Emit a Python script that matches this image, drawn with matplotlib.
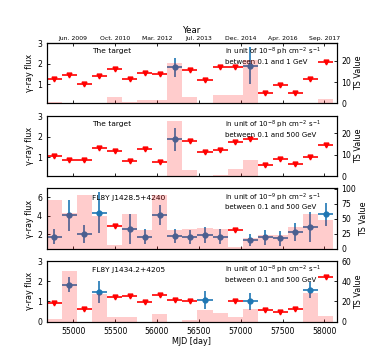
import numpy as np
import matplotlib
matplotlib.use('Agg')
import matplotlib.pyplot as plt

# centros de los bines de tiempo (MJD), bines de 180 dias
mjd = [54773, 54953, 55133, 55313, 55493, 55673, 55853, 56033, 56213, 56393,
       56573, 56753, 56933, 57113, 57293, 57473, 57653, 57833, 58013]
media_bin = 90

# panel 1: the target, 0.1-1 GeV
flujo1 = [1.27, 1.47, 1.03, 1.39, 1.76, 1.28, 1.57, 1.49, 1.82, 1.71,
          1.20, 1.83, 1.83, 1.91, 0.57, 0.95, 0.60, 1.24, 2.09]
err1 = [0, 0, 0, 0, 0, 0, 0, 0, 0.47, 0, 0, 0, 0, 0.88, 0, 0, 0, 0, 0]
ts1 = [0.8, 0, 0, 0, 2.8, 0.4, 1.5, 1.5, 18.9, 2.8,
       0, 3.7, 3.7, 20.2, 0, 0, 0, 0, 2.0]

# panel 2: the target, 0.1-500 GeV
flujo2 = [1.07, 0.87, 0.87, 1.42, 1.30, 0.83, 1.39, 0.75, 1.86, 1.78,
          1.26, 1.34, 1.74, 1.87, 0.62, 0.91, 0.65, 0.99, 1.57]
err2 = [0, 0, 0, 0, 0, 0, 0, 0, 0.55, 0, 0, 0, 0, 0, 0, 0, 0, 0, 0]
ts2 = [0, 0, 0, 0, 0, 0, 0.2, 0, 25.8, 2.9,
       0, 0.3, 3.2, 7.4, 0, 0, 0, 0, 0]

# panel 3: FL8Y J1428.5+4240
flujo3 = [1.75, 4.05, 2.03, 4.30, 2.90, 2.54, 1.75, 4.09, 1.80, 1.75,
          1.93, 1.75, 2.45, 1.39, 1.68, 1.60, 2.22, 2.76, 4.16]
err3 = [0.80, 1.65, 0.95, 2.20, 0, 1.60, 0.80, 1.10, 0.75, 0.75,
        0.85, 0.80, 0, 0.60, 0.80, 0.80, 0.95, 1.60, 1.25]
ts3 = [82, 60, 90, 55, 7, 59, 32, 90, 32, 33,
       35, 33, 4, 18, 24, 24, 36, 58, 49]

# panel 4: FL8Y J1434.2+4205 (bin 12 sin dato)
flujo4 = [0.92, 1.83, 0.63, 1.47, 1.22, 1.27, 0.95, 1.33, 1.08, 1.03,
          1.08, np.nan, 1.03, 1.00, 0.58, 0.47, 0.63, 1.58, 2.22]
err4 = [0, 0.37, 0, 0.53, 0, 0, 0, 0, 0, 0,
        0.45, 0, 0, 0.42, 0, 0, 0, 0.40, 0]
ts4 = [2.4, 50, 0, 27, 5, 5, 0, 7.4, 0, 1.5,
       12, 8.3, 5, 13, 0, 0, 0, 28, 5.7]

nombres = ['The target', 'The target', 'FL8Y J1428.5+4240', 'FL8Y J1434.2+4205']
unidades = [r'in unit of $10^{-8}$ ph cm$^{-2}$ s$^{-1}$' + '\nbetween 0.1 and 1 GeV',
            r'in unit of $10^{-8}$ ph cm$^{-2}$ s$^{-1}$' + '\nbetween 0.1 and 500 GeV',
            r'in unit of $10^{-9}$ ph cm$^{-2}$ s$^{-1}$' + '\nbetween 0.1 and 500 GeV',
            r'in unit of $10^{-8}$ ph cm$^{-2}$ s$^{-1}$' + '\nbetween 0.1 and 500 GeV']

anios_mjd = [55000, 55500, 56000, 56500, 57000, 57500, 58000]
anios = ['Jun. 2009', 'Oct. 2010', 'Mar. 2012', 'Jul. 2013', 'Dec. 2014', 'Apr. 2016', 'Sep. 2017']

flujos = [flujo1, flujo2, flujo3, flujo4]
errores = [err1, err2, err3, err4]
tss = [ts1, ts2, ts3, ts4]
ylims = [(0.08, 3), (0.08, 3), (0.43, 6.95), (0, 3)]
yticks = [[1, 2, 3], [1, 2, 3], [2, 4, 6], [0, 1, 2, 3]]
tslims = [(0, 28.3), (0, 28.2), (0, 101), (0, 60)]
tsticks = [[0, 10, 20], [0, 10, 20], [0, 25, 50, 75, 100], [0, 20, 40, 60]]
posiciones = [(0.7146, 0.1666), (0.5138, 0.1657), (0.3122, 0.1677), (0.1113, 0.1677)]
y_nombre = [0.86, 0.86, 0.835, 0.86]

plt.rcParams['font.family'] = 'DejaVu Sans'
fig = plt.figure(figsize=(3.74, 3.62), dpi=100)

for k in range(4):
    ax = fig.add_axes([0.125, posiciones[k][0], 0.775, posiciones[k][1]])
    f = np.array(flujos[k])
    e = np.array(errores[k])
    t = np.array(mjd)
    det = e > 0
    ul = (~det) & ~np.isnan(f)

    # limites superiores en rojo
    ax.errorbar(t[ul], f[ul], xerr=media_bin, fmt='v', color='red', ms=3.5,
                elinewidth=1.2, capsize=0)
    # detecciones en azul
    ax.errorbar(t[det], f[det], xerr=media_bin, yerr=e[det], fmt='o', color='#1f77b4',
                ms=3.5, elinewidth=1.2, capsize=0)

    ax.set_xlim(54683, 58145)
    ax.set_ylim(ylims[k])
    ax.set_yticks(yticks[k])
    ax.set_xticks(anios_mjd)
    ax.tick_params(direction='in', labelsize=5.6, length=2.5, width=0.6)
    ax.set_ylabel('γ-ray flux', fontsize=5.8, labelpad=2)
    if k < 3:
        ax.set_xticklabels([])
    else:
        ax.set_xlabel('MJD [day]', fontsize=5.8, labelpad=1)

    ax.text(0.157, y_nombre[k], nombres[k], transform=ax.transAxes, fontsize=5.4, va='center')
    ax.text(0.615, 0.95, unidades[k], transform=ax.transAxes, fontsize=5.0, va='top',
            linespacing=1.05)

    # TS en el eje derecho
    ax2 = ax.twinx()
    ax2.bar(t, tss[k], width=2 * media_bin, color='red', alpha=0.2, linewidth=0)
    ax2.set_ylim(tslims[k])
    ax2.set_yticks(tsticks[k])
    ax2.tick_params(direction='in', labelsize=5.6, length=2.5, width=0.6)
    ax2.set_ylabel('TS Value', fontsize=5.8, labelpad=2)

    if k == 0:
        arriba = ax.secondary_xaxis('top')
        arriba.set_xticks(anios_mjd, anios)
        arriba.tick_params(direction='in', labelsize=4.4, length=2.5, width=0.6, pad=1.5)
        arriba.set_xlabel('Year', fontsize=6.2, labelpad=2)

plt.savefig('out.png', dpi=100)
